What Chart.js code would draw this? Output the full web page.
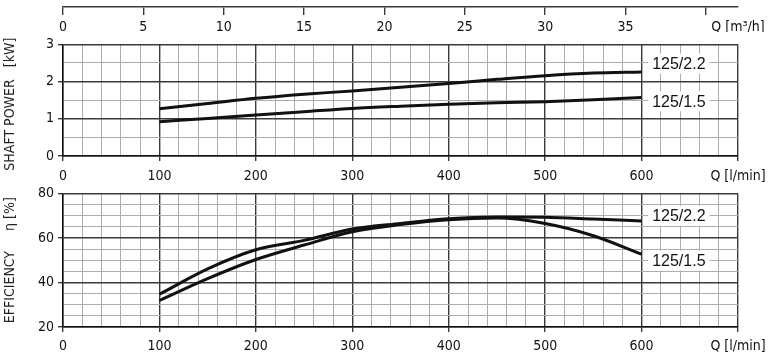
<!DOCTYPE html>
<html>
<head>
<meta charset="utf-8">
<script src="https://cdn.jsdelivr.net/npm/chart.js@4.4.0/dist/chart.umd.min.js"></script>
<style>
  html, body { margin: 0; padding: 0; background: #fff; }
  #wrap { position: relative; width: 773px; height: 361px; overflow: hidden; background: #fff; }
  canvas { position: absolute; left: 0; }
</style>
</head>
<body>
<div id="wrap">
  <canvas id="flowAxis" width="773" height="32" style="top:0px"></canvas>
  <canvas id="powerChart" width="773" height="156" style="top:32px"></canvas>
  <canvas id="effChart" width="773" height="180" style="top:181px"></canvas>
</div>
<script>
// --- data ---
const flowLpm = [100, 150, 200, 250, 300, 350, 400, 450, 500, 550, 600];
const power22 = [1.27, 1.41, 1.55, 1.66, 1.75, 1.85, 1.95, 2.06, 2.16, 2.23, 2.26];
const power15 = [0.92, 1.01, 1.10, 1.19, 1.28, 1.34, 1.39, 1.43, 1.46, 1.51, 1.57];
const eff22 = [34.7, 46.1, 54.7, 58.9, 64.0, 66.5, 68.6, 69.4, 69.3, 68.5, 67.6];
const eff15 = [31.9, 41.7, 50.3, 56.8, 62.8, 66.0, 68.2, 68.9, 66.5, 61.0, 52.7];
const seriesNames = ['125/2.2', '125/1.5'];

// --- axes ---
const lpmMax = 700;
const lpmTickLabels = { 0: '0', 100: '100', 200: '200', 300: '300', 400: '400', 500: '500', 600: '600', 700: 'Q [l/min]' };
const m3hTicks = [0, 5, 10, 15, 20, 25, 30, 35, 40, 42];
const m3hTickLabels = ['0', '5', '10', '15', '20', '25', '30', '35', '', 'Q [m\u00B3/h]'];
const powerTickLabels = { 0: '0', 1: '1', 2: '2', 3: '3' };
const effTickLabels = { 20: '20', 40: '40', 60: '60', 80: '80' };

const NARROW = '"Liberation Sans Narrow", "DejaVu Sans Condensed", "Liberation Sans", sans-serif';
const REGULAR = '"Liberation Sans", Arial, sans-serif';
const INK = '#111';
const MAJOR = '#3a3a3a';
const MINOR = '#adadad';

Chart.defaults.font.family = NARROW;
Chart.defaults.color = INK;

const toPoints = (ys) => flowLpm.map((x, i) => ({ x, y: ys[i] }));

const curve = (label, ys) => ({
    label, data: toPoints(ys), showLine: true,
    borderColor: INK, borderWidth: 3, pointRadius: 0,
    cubicInterpolationMode: 'monotone', fill: false
});

// white boxes with the curve names at the right end
const curveLabels = {
    id: 'curveLabels',
    beforeDatasetsDraw(chart, args, opts) {
        if (!opts.items) return;
        const { ctx } = chart;
        const xs = chart.scales.x, ys = chart.scales.y;
        ctx.save();
        ctx.font = '16px ' + REGULAR;
        ctx.textBaseline = 'middle';
        opts.items.forEach(it => {
            const x = xs.getPixelForValue(it.x);
            const y = ys.getPixelForValue(it.y);
            const w = ctx.measureText(it.text).width;
            ctx.fillStyle = '#fff';
            ctx.fillRect(x - 4, y - 10, w + 8, 20);
            ctx.fillStyle = INK;
            ctx.fillText(it.text, x, y + 1);
        });
        ctx.restore();
    }
};

const lpmAxis = (height, pad) => ({
    type: 'linear', min: 0, max: lpmMax,
    afterFit: s => { s.height = height; },
    ticks: {
        stepSize: 20, autoSkip: false, maxRotation: 0, padding: pad,
        font: { size: 14 }, color: INK,
        callback: v => lpmTickLabels[v] ?? ''
    },
    grid: {
        color: c => (c.tick.value % 100 === 0 ? MAJOR : MINOR),
        lineWidth: c => (c.tick.value % 100 === 0 ? 1.4 : 1),
        tickLength: 5,
        tickColor: c => (c.tick.value % 100 === 0 ? MAJOR : 'rgba(0,0,0,0)')
    },
    border: { color: INK, width: 1.5 }
});

const valueAxis = (min, max, step, labels, majorStep, title) => ({
    min, max,
    afterFit: s => { s.width = 63; },
    ticks: {
        stepSize: step, autoSkip: false, padding: 4,
        font: { size: 14 }, color: INK,
        callback: v => labels[v] ?? ''
    },
    grid: {
        color: c => (c.tick.value % majorStep === 0 ? MAJOR : MINOR),
        lineWidth: c => (c.tick.value % majorStep === 0 ? 1.4 : 1),
        tickLength: 5,
        tickColor: c => (c.tick.value % majorStep === 0 ? MAJOR : 'rgba(0,0,0,0)')
    },
    border: { color: INK, width: 1.5 },
    title: { display: true, text: title, font: { size: 14 }, color: '#222', padding: { top: 2, bottom: 0 } }
});

const baseOptions = {
    responsive: false, animation: false,
    plugins: { legend: { display: false }, tooltip: { enabled: false } }
};

// --- top flow axis in m3/h ---
new Chart(document.getElementById('flowAxis'), {
    type: 'scatter',
    data: { datasets: [] },
    options: {
        ...baseOptions,
        layout: { padding: { top: 0, left: 63, right: 35, bottom: 0 } },
        scales: {
            x: {
                type: 'linear', min: 0, max: lpmMax * 60 / 1000,
                afterFit: s => { s.height = 25; },
                afterBuildTicks: s => { s.ticks = m3hTicks.map(v => ({ value: v })); },
                ticks: {
                    autoSkip: false, maxRotation: 0, padding: 4,
                    font: { size: 14 }, color: INK,
                    callback: (v, i) => m3hTickLabels[i]
                },
                grid: {
                    drawOnChartArea: false, tickLength: 8, lineWidth: 1.4,
                    tickColor: c => (c.index === m3hTicks.length - 1 ? 'rgba(0,0,0,0)' : MAJOR)
                },
                border: { color: MAJOR, width: 1.4 }
            },
            y: { display: false, min: 0, max: 1 }
        }
    }
});

// --- shaft power ---
new Chart(document.getElementById('powerChart'), {
    type: 'scatter',
    data: { datasets: [curve(seriesNames[0], power22), curve(seriesNames[1], power15)] },
    plugins: [curveLabels],
    options: {
        ...baseOptions,
        layout: { padding: { top: 0, left: 0, right: 35, bottom: 0 } },
        plugins: {
            ...baseOptions.plugins,
            curveLabels: { items: [
                { text: seriesNames[0], x: 611, y: 2.48 },
                { text: seriesNames[1], x: 611, y: 1.47 }
            ] }
        },
        scales: {
            x: lpmAxis(32, 7),
            y: valueAxis(0, 3, 0.5, powerTickLabels, 1, 'SHAFT POWER   [kW]  ')
        }
    }
});

// --- efficiency ---
new Chart(document.getElementById('effChart'), {
    type: 'scatter',
    data: { datasets: [curve(seriesNames[0], eff22), curve(seriesNames[1], eff15)] },
    plugins: [curveLabels],
    options: {
        ...baseOptions,
        layout: { padding: { top: 0, left: 0, right: 35, bottom: 0 } },
        plugins: {
            ...baseOptions.plugins,
            curveLabels: { items: [
                { text: seriesNames[0], x: 611, y: 69.9 },
                { text: seriesNames[1], x: 611, y: 49.8 }
            ] }
        },
        scales: {
            x: lpmAxis(34, 6),
            y: valueAxis(20, 80, 5, effTickLabels, 20, 'EFFICIENCY     \u03B7 [%]')
        }
    }
});
</script>
</body>
</html>
